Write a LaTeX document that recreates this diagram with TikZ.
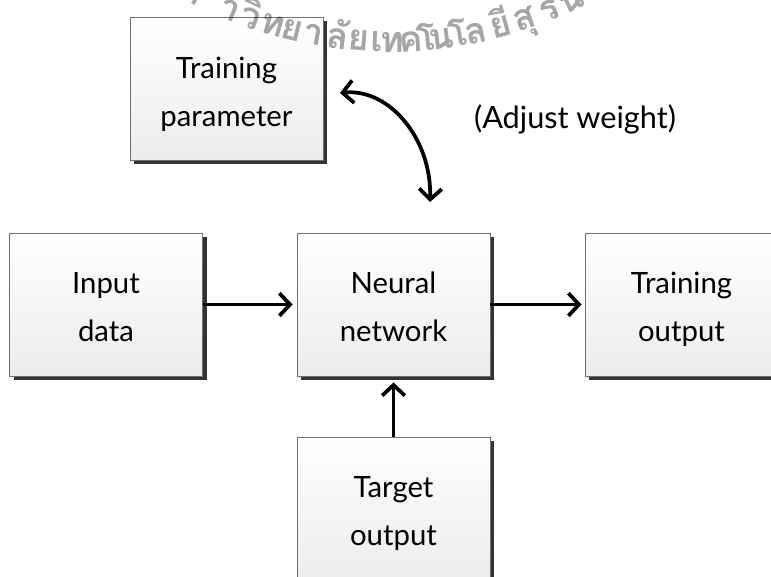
\documentclass[tikz,border=0pt]{standalone}
\usepackage{fontspec}
\setmainfont{Lato}
\newfontfamily\thaifont[Script=Thai]{Loma}
\usetikzlibrary{arrows.meta,shadows}
\newcommand{\bstrut}{\rule[-6pt]{0pt}{32pt}}

\begin{document}
\begin{tikzpicture}[x=0.75pt,y=0.75pt,yscale=-1,xscale=1,
		>={Straight Barb[length=8pt,width=17pt]},
		block/.style={draw={rgb, 255:red, 112; green, 112; blue, 112 },line width=0.6pt,
			top color=white,bottom color={rgb, 255:red, 236; green, 236; blue, 236 },
			minimum width=144.75pt,minimum height=107.25pt,inner sep=0pt,align=center,
			font=\fontsize{22}{36}\selectfont,
			drop shadow={shadow xshift=3pt,shadow yshift=-3pt,fill={rgb, 255:red, 51; green, 51; blue, 51 },opacity=1}},
		flow/.style={line width=2.8pt,->},
		seal/.style={font=\thaifont\bfseries\fontsize{27}{27}\selectfont,anchor=base,inner sep=0pt,opacity=0.35}]
			\useasboundingbox (0,0) rectangle (771,577);
			\clip (0,0) rectangle (771,577);
			
			% Text Node
			\node [block] (param) at (226.5,89) {\bstrut Training\\\bstrut parameter};
			% Text Node
			\node [block] (input) at (106,304.5) {\bstrut Input\\\bstrut data};
			% Text Node
			\node [block] (neural) at (393.5,304.5) {\bstrut Neural\\\bstrut network};
			% Text Node
			\node [block] (trainout) at (681.5,304.5) {\bstrut Training\\\bstrut output};
			% Text Node
			\node [block] (target) at (393.5,508.5) {\bstrut Target\\\bstrut output};
			% Text Node
			\node [font=\fontsize{23}{27}\selectfont] (adjlbl) at (575,119) {(Adjust weight)};
			
			%Straight Lines
			\draw [flow,shorten >=3pt] (input) -- (neural);
			\draw [flow,shorten >=2.25pt] (neural) -- (trainout);
			\draw [flow,shorten >=4.5pt] (target) -- (neural);
			%Curve Lines
			\coordinate (adjA) at (340,93);
			\coordinate (adjB) at (430,202);
			\draw [flow,<->] (adjA) .. controls (390,88) and (432,140) .. (adjB);
			
			%Watermark
			\foreach \a/\g in {-31.5/ม,-28.2/ห,-22.4/า,-19.4/วิ,-16.2/ท,-13.5/ย,-10.5/า,-7.2/ลั,-4.3/ย,-1.8/เ,0.3/ท,2.9/ค,5.0/โ,7.0/น,9.4/โ,11.8/ล,15.3/ยี,18.7/สุ,22.4/ร,25.5/น,28.4/า,31.0/รี}
				\node [seal,rotate=\a] at ({390+430*sin(\a)},{-378+430*cos(\a)}) {\g};
			
		\end{tikzpicture}
\end{document}
